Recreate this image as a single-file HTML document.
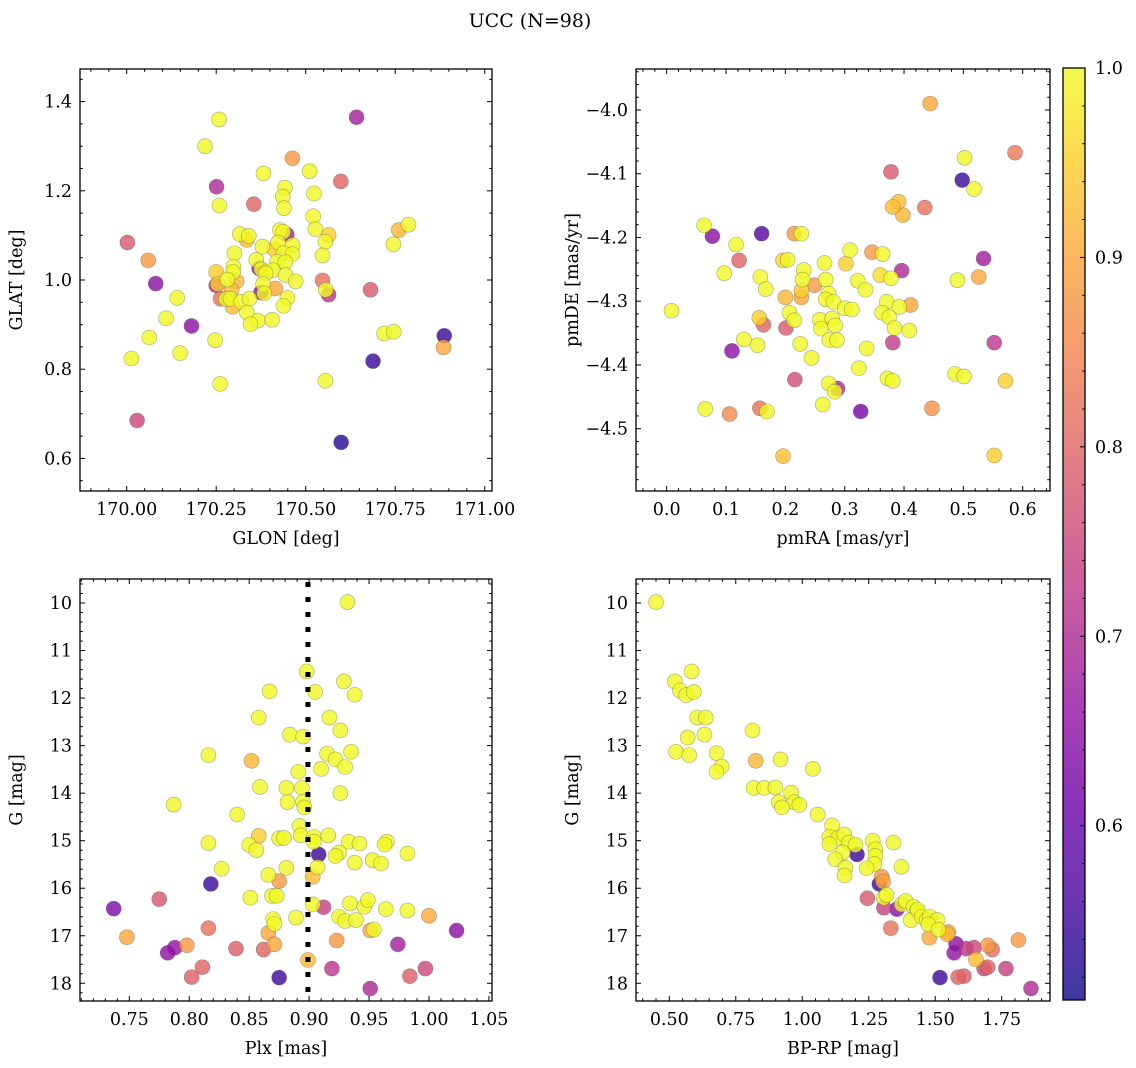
<!DOCTYPE html>
<html><head><meta charset="utf-8">
<style>
body{margin:0;background:#fff;}
svg{display:block;font-family:"DejaVu Serif","Liberation Serif",serif;}
</style></head>
<body>
<svg id="fig" width="1136" height="1068" viewBox="0 0 1136 1068" xmlns="http://www.w3.org/2000/svg">
<defs>
<linearGradient id="plasma" x1="0" y1="1" x2="0" y2="0">
<stop offset="0" stop-color="#0d0887"/><stop offset="0.1" stop-color="#41049d"/><stop offset="0.2" stop-color="#6a00a8"/><stop offset="0.3" stop-color="#8f0da4"/><stop offset="0.4" stop-color="#b12a90"/><stop offset="0.5" stop-color="#cc4778"/><stop offset="0.6" stop-color="#e16462"/><stop offset="0.7" stop-color="#f2844b"/><stop offset="0.8" stop-color="#fca636"/><stop offset="0.9" stop-color="#fcce25"/><stop offset="1" stop-color="#f0f921"/>
</linearGradient>
</defs>
<text x="530" y="27" font-size="19" text-anchor="middle">UCC (N=98)</text>
</svg>
<script>
// ---- Panel 1: GLON vs GLAT ----
const glon = [170.258,170.642,170.219,170.463,170.511,170.382,170.598,170.251,170.442,170.523,170.436,170.439,170.259,170.355,170.521,170.527,170.787,170.760,170.428,170.447,170.437,170.564,170.555,170.316,170.341,170.335,170.002,170.745,170.423,170.463,170.379,170.412,170.301,170.547,170.438,170.463,170.060,170.362,170.420,170.443,170.370,170.298,170.376,170.250,170.408,170.297,170.444,170.388,170.281,170.307,170.472,170.547,170.381,170.415,170.250,170.254,170.081,170.681,170.556,170.564,170.375,170.384,170.293,170.262,170.277,170.290,170.296,170.320,170.343,170.449,170.438,170.141,170.336,170.110,170.181,170.367,170.346,170.406,170.063,170.247,170.719,170.746,170.887,170.885,170.149,170.013,170.688,170.261,170.555,170.029,170.599];
const glat = [1.360,1.365,1.300,1.273,1.244,1.239,1.221,1.209,1.207,1.194,1.187,1.161,1.167,1.170,1.143,1.114,1.124,1.112,1.112,1.102,1.108,1.101,1.086,1.103,1.099,1.090,1.084,1.080,1.084,1.078,1.075,1.069,1.060,1.055,1.060,1.058,1.044,1.045,1.041,1.040,1.026,1.030,1.024,1.018,1.022,1.018,1.011,1.015,1.001,0.997,0.997,0.999,0.991,0.981,0.988,0.991,0.992,0.978,0.978,0.967,0.972,0.970,0.978,0.958,0.957,0.958,0.940,0.951,0.958,0.960,0.942,0.960,0.927,0.914,0.897,0.909,0.901,0.911,0.871,0.865,0.880,0.884,0.875,0.849,0.836,0.824,0.818,0.767,0.774,0.685,0.636];
const prob1 = [1,0.68,1,0.88,1,1,0.8,0.7,1,1,1,1,1,0.8,1,1,1,0.92,1,0.68,1,0.95,1,1,1,0.93,0.78,1,1,1,1,0.95,1,1,1,1,0.88,1,1,1,0.65,1,1,0.95,1,1,1,1,1,0.92,1,0.82,1,0.9,0.7,0.95,0.65,0.78,1,0.72,0.65,1,0.93,0.82,1,1,0.93,1,1,1,1,1,1,1,0.65,1,1,1,1,1,1,1,0.55,0.9,1,1,0.55,1,1,0.75,0.53];
// ---- Panel 2: pmRA vs pmDE ----
const pmra = [0.444,0.587,0.502,0.378,0.498,0.518,0.391,0.381,0.435,0.398,0.063,0.077,0.160,0.215,0.227,0.117,0.309,0.346,0.364,0.534,0.122,0.196,0.204,0.266,0.302,0.097,0.396,0.360,0.158,0.231,0.229,0.268,0.378,0.490,0.526,0.322,0.249,0.167,0.335,0.227,0.273,0.227,0.200,0.268,0.281,0.371,0.411,0.392,0.300,0.312,0.008,0.207,0.363,0.156,0.258,0.279,0.215,0.375,0.163,0.201,0.260,0.284,0.384,0.409,0.130,0.274,0.287,0.381,0.552,0.225,0.153,0.110,0.337,0.244,0.324,0.486,0.501,0.216,0.372,0.381,0.571,0.273,0.288,0.283,0.263,0.065,0.157,0.169,0.106,0.327,0.447,0.196,0.552];
const pmde = [-3.990,-4.067,-4.075,-4.097,-4.110,-4.124,-4.144,-4.152,-4.153,-4.165,-4.181,-4.198,-4.194,-4.194,-4.194,-4.211,-4.220,-4.223,-4.226,-4.233,-4.236,-4.236,-4.235,-4.240,-4.241,-4.256,-4.252,-4.259,-4.262,-4.251,-4.266,-4.266,-4.264,-4.267,-4.262,-4.268,-4.275,-4.281,-4.282,-4.283,-4.288,-4.294,-4.294,-4.297,-4.301,-4.301,-4.306,-4.309,-4.311,-4.313,-4.315,-4.318,-4.318,-4.326,-4.329,-4.327,-4.330,-4.325,-4.337,-4.342,-4.343,-4.338,-4.342,-4.346,-4.360,-4.361,-4.361,-4.365,-4.365,-4.367,-4.369,-4.378,-4.374,-4.389,-4.405,-4.414,-4.418,-4.423,-4.421,-4.425,-4.425,-4.429,-4.437,-4.442,-4.462,-4.469,-4.468,-4.473,-4.477,-4.473,-4.468,-4.543,-4.542];
const prob2 = [0.9,0.83,1,0.78,0.55,1,0.93,0.93,0.82,0.92,1,0.65,0.58,0.88,1,1,1,0.88,1,0.68,0.8,0.95,1,1,0.95,1,0.7,0.97,1,1,1,1,1,1,0.9,1,0.88,1,1,0.95,1,0.9,0.92,1,1,1,0.9,1,1,1,1,1,1,0.95,1,1,1,1,0.8,0.78,1,1,1,1,1,1,1,0.73,0.72,1,1,0.65,1,1,1,1,1,0.76,1,1,0.95,1,0.7,1,1,1,0.82,1,0.86,0.62,0.87,0.93,0.95];
// ---- Panel 3: Plx vs G ----
const plx = [0.932,0.898,0.929,0.867,0.905,0.938,0.858,0.917,0.926,0.884,0.895,0.816,0.935,0.915,0.922,0.852,0.930,0.910,0.891,0.859,0.881,0.894,0.926,0.787,0.882,0.895,0.896,0.840,0.892,0.816,0.858,0.850,0.856,0.875,0.879,0.893,0.904,0.904,0.916,0.933,0.942,0.965,0.963,0.982,0.908,0.925,0.922,0.827,0.881,0.907,0.938,0.953,0.960,0.866,0.875,0.903,0.818,0.775,0.851,0.869,0.873,0.737,0.903,0.912,0.934,0.946,0.949,0.964,0.982,1.000,0.870,0.871,0.889,0.925,0.930,0.939,0.866,0.816,0.951,0.954,1.023,0.748,0.923,0.974,0.798,0.871,0.788,0.782,0.839,0.862,0.899,0.811,0.919,0.997,0.802,0.875,0.984,0.951];
const gmag3 = [9.98,11.44,11.65,11.86,11.87,11.93,12.41,12.41,12.68,12.77,12.81,13.20,13.13,13.17,13.29,13.32,13.45,13.49,13.55,13.87,13.89,13.89,14.00,14.24,14.19,14.18,14.30,14.45,14.69,15.05,14.90,15.09,15.20,14.95,14.94,14.89,14.92,15.02,14.89,15.02,15.06,15.02,15.08,15.27,15.29,15.25,15.32,15.59,15.57,15.56,15.46,15.41,15.48,15.72,15.85,15.76,15.91,16.23,16.20,16.16,16.16,16.43,16.34,16.40,16.32,16.39,16.25,16.44,16.47,16.58,16.65,16.75,16.62,16.60,16.69,16.67,16.94,16.84,16.89,16.87,16.89,17.03,17.10,17.18,17.20,17.18,17.25,17.36,17.27,17.29,17.51,17.66,17.69,17.69,17.87,17.88,17.85,18.11];
const prob3 = [1,1,1,1,1,1,1,1,1,1,1,1,1,1,1,0.92,1,1,1,1,1,1,1,1,1,1,1,1,1,1,0.95,1,1,1,1,1,1,1,1,1,1,1,1,1,0.55,1,1,1,1,1,1,1,1,1,0.88,0.93,0.55,0.78,1,1,1,0.63,1,0.74,1,1,1,1,1,0.9,1,1,1,1,1,1,0.9,0.82,0.9,1,0.65,0.9,0.88,0.68,0.88,0.9,0.66,0.65,0.79,0.8,0.92,0.8,0.72,0.75,0.79,0.55,0.79,0.7];
const plxLine = 0.899;
// ---- Panel 4: BP-RP vs G ----
const bprp = [0.450,0.584,0.521,0.540,0.563,0.592,0.605,0.637,0.813,0.632,0.569,0.525,0.575,0.678,0.918,0.825,0.697,0.677,1.040,0.817,0.857,0.899,0.958,0.911,0.970,0.989,0.924,1.058,1.112,1.102,1.135,1.158,1.102,1.175,1.200,1.265,1.343,1.206,1.152,1.275,1.275,1.124,1.271,1.242,1.373,1.162,1.159,1.299,1.290,1.304,1.245,1.307,1.317,1.307,1.356,1.374,1.389,1.418,1.430,1.408,1.434,1.449,1.468,1.480,1.509,1.474,1.333,1.512,1.549,1.546,1.478,1.578,1.571,1.616,1.646,1.698,1.714,1.653,1.813,1.684,1.697,1.766,1.518,1.586,1.608,1.860];
const gmag4 = [9.98,11.44,11.65,11.84,11.94,11.87,12.41,12.41,12.68,12.77,12.83,13.13,13.20,13.16,13.29,13.32,13.44,13.55,13.49,13.89,13.89,13.88,13.99,14.19,14.19,14.25,14.30,14.45,14.68,14.92,14.94,14.87,15.07,15.04,15.09,15.00,15.04,15.29,15.25,15.18,15.32,15.39,15.49,15.58,15.55,15.57,15.73,15.76,15.91,15.86,16.21,16.20,16.14,16.41,16.44,16.34,16.27,16.39,16.49,16.67,16.45,16.60,16.67,16.60,16.67,16.76,16.84,16.87,16.92,16.97,17.04,17.17,17.36,17.27,17.25,17.20,17.29,17.50,17.09,17.69,17.66,17.69,17.88,17.87,17.85,18.11];
const prob4 = [1,1,1,1,1,1,1,1,1,1,1,1,1,1,1,0.92,1,1,1,1,1,1,1,1,1,1,1,1,1,1,1,1,1,1,1,1,1,0.55,1,1,1,1,1,1,1,1,1,0.88,0.55,0.9,0.78,1,1,0.74,0.65,1,1,1,1,1,1,1,1,1,1,1,0.82,1,0.9,0.92,0.9,0.65,0.66,0.72,0.75,0.88,0.82,0.93,0.88,0.75,0.8,0.74,0.55,0.8,0.79,0.7];
// ---- tick labels ----
const p1xTicks = [170.00,170.25,170.50,170.75,171.00];
const p1yTicks = [0.6,0.8,1.0,1.2,1.4];
const p2xTicks = [0.0,0.1,0.2,0.3,0.4,0.5,0.6];
const p2yTicks = [-4.5,-4.4,-4.3,-4.2,-4.1,-4.0];
const p3xTicks = [0.75,0.80,0.85,0.90,0.95,1.00,1.05];
const gTicks = [10,11,12,13,14,15,16,17,18];
const p4xTicks = [0.50,0.75,1.00,1.25,1.50,1.75];
const cbTicks = [0.6,0.7,0.8,0.9,1.0];
const cMin = 0.508, cMax = 1.0;

const FS = 17.5;
const NS = "http://www.w3.org/2000/svg";
const svg = document.getElementById('fig');
function el(tag, attrs, parent){ const e=document.createElementNS(NS,tag); for(const k in attrs) e.setAttribute(k,attrs[k]); (parent||svg).appendChild(e); return e; }
const stops=[[0,13,8,135],[0.1,65,4,157],[0.2,106,0,168],[0.3,143,13,164],[0.4,177,42,144],[0.5,204,71,120],[0.6,225,100,98],[0.7,242,132,75],[0.8,252,166,54],[0.9,252,206,37],[1,240,249,33]];
function plasma(v){ let t=(v-cMin)/(cMax-cMin); t=Math.max(0,Math.min(1,t));
  for(let i=1;i<stops.length;i++){ if(t<=stops[i][0]){ const a=stops[i-1],b=stops[i],f=(t-a[0])/(b[0]-a[0]);
    return `rgb(${Math.round(a[1]+f*(b[1]-a[1]))},${Math.round(a[2]+f*(b[2]-a[2]))},${Math.round(a[3]+f*(b[3]-a[3]))})`; } }
  return 'rgb(240,249,33)'; }
function lin(v0,p0,v1,p1){ const s=(p1-p0)/(v1-v0); const f=v=>p0+(v-v0)*s; f.inv=p=>v0+(p-p0)/s; return f; }

function panel(name, box, xs, ys, xTicks, yTicks, xDec, yDec, xMinorN, yMinorN, xLabel, yLabel, X, Y, P){
  const g=el('g',{}); 
  
  
  const [L,T,R,B]=box;
  const idx=X.map((_,i)=>i).sort((a,b)=>P[a]-P[b]);
  const pg=el('g',{},g);
  
  
  for(const i of idx){
    const c=el('circle',{cx:xs(X[i]),cy:ys(Y[i]),r:7.5,fill:plasma(P[i]),'fill-opacity':0.8,stroke:'#555','stroke-opacity':0.5,'stroke-width':0.6},pg);
    
    
  }
  const fr=el('rect',{x:L,y:T,width:R-L,height:B-T,fill:'none',stroke:'#000','stroke-width':1.3},g);
  
  
  const xv0=xs.inv(L), xv1=xs.inv(R), step=xTicks[1]-xTicks[0], ms=step/xMinorN;
  for(let v=Math.ceil(xv0/ms-1e-6)*ms; v<=xv1+1e-9; v+=ms){ const px=xs(v);
    const major=Math.abs(v/step-Math.round(v/step))<1e-4; const len=major?5:2.8;
    el('line',{x1:px,y1:B,x2:px,y2:B-len,stroke:'#000','stroke-width':1},g);
    el('line',{x1:px,y1:T,x2:px,y2:T+len,stroke:'#000','stroke-width':1},g); }
  for(const v of xTicks){ const t=el('text',{x:xs(v),y:B+24,'font-size':FS,'text-anchor':'middle'},g); t.textContent=v.toFixed(xDec);
    
     }
  const yv0=ys.inv(B), yv1=ys.inv(T), ystep=yTicks[1]-yTicks[0], yms=ystep/yMinorN;
  const ylo=Math.min(yv0,yv1), yhi=Math.max(yv0,yv1);
  for(let v=Math.ceil(ylo/yms-1e-6)*yms; v<=yhi+1e-9; v+=yms){ const py=ys(v);
    const major=Math.abs(v/ystep-Math.round(v/ystep))<1e-4; const len=major?5:2.8;
    el('line',{x1:L,y1:py,x2:L+len,y2:py,stroke:'#000','stroke-width':1},g);
    el('line',{x1:R,y1:py,x2:R-len,y2:py,stroke:'#000','stroke-width':1},g); }
  for(const v of yTicks){ const t=el('text',{x:L-8,y:ys(v)+6,'font-size':FS,'text-anchor':'end'},g); t.textContent=(v<0?'\u2212':'')+Math.abs(v).toFixed(yDec);
    
     }
  const xl=el('text',{x:(L+R)/2,y:B+53,'font-size':FS,'text-anchor':'middle'},g); xl.textContent=xLabel;
  
  
  const ylx = L-58; const yl=el('text',{x:ylx,y:(T+B)/2,'font-size':FS,'text-anchor':'middle',transform:`rotate(-90 ${ylx} ${(T+B)/2})`},g); yl.textContent=yLabel;
  
  
  return g;
}
const s1x=lin(170,126.7,171,484.7), s1y=lin(1.0,280,1.2,190.8);
panel('glon-glat-panel',[80,69,492,491],s1x,s1y,p1xTicks,p1yTicks,2,1,5,4,'GLON [deg]','GLAT [deg]',glon,glat,prob1);
const s2x=lin(0,666.7,0.6,1022.7), s2y=lin(-4.0,110,-4.5,428.7);
panel('proper-motion-panel',[636,69,1050,491],s2x,s2y,p2xTicks,p2yTicks,1,1,5,5,'pmRA [mas/yr]','pmDE [mas/yr]',pmra,pmde,prob2);
const s3x=lin(0.75,129.3,1.0,429), gy=lin(10,603,18,983.3);
const g3=panel('plx-g-panel',[80,579,492,1001],s3x,gy,p3xTicks,gTicks,2,0,5,5,'Plx [mas]','G [mag]',plx,gmag3,prob3);
const ln=el('line',{x1:s3x(plxLine),y1:582,x2:s3x(plxLine),y2:1001,stroke:'#000','stroke-width':5,'stroke-dasharray':'5,10'},g3);


const s4x=lin(0.5,669.3,1.75,1001.7);
panel('cmd-panel',[636,579,1050,1001],s4x,gy,p4xTicks,gTicks,2,0,5,5,'BP-RP [mag]','G [mag]',bprp,gmag4,prob4);
const cb=el('g',{});


const cT=68, cB=1000, cL=1063, cR=1085;
const cs=lin(cMin,cB,cMax,cT);
el('rect',{x:cL,y:cT,width:cR-cL,height:cB-cT,fill:'url(#plasma)','fill-opacity':0.8},cb);
el('rect',{x:cL,y:cT,width:cR-cL,height:cB-cT,fill:'none',stroke:'#000','stroke-width':1.3},cb);
for(let v=Math.ceil(cMin/0.02)*0.02; v<=cMax+1e-9; v+=0.02){ const major=Math.abs(v*10-Math.round(v*10))<1e-4;
  el('line',{x1:cR,y1:cs(v),x2:cR-(major?5:2.8),y2:cs(v),stroke:'#000','stroke-width':1},cb); }
for(const v of cbTicks){ const t=el('text',{x:cR+10,y:cs(v)+6,'font-size':FS},cb); t.textContent=v.toFixed(1);
  
   }
</script>
</body></html>
